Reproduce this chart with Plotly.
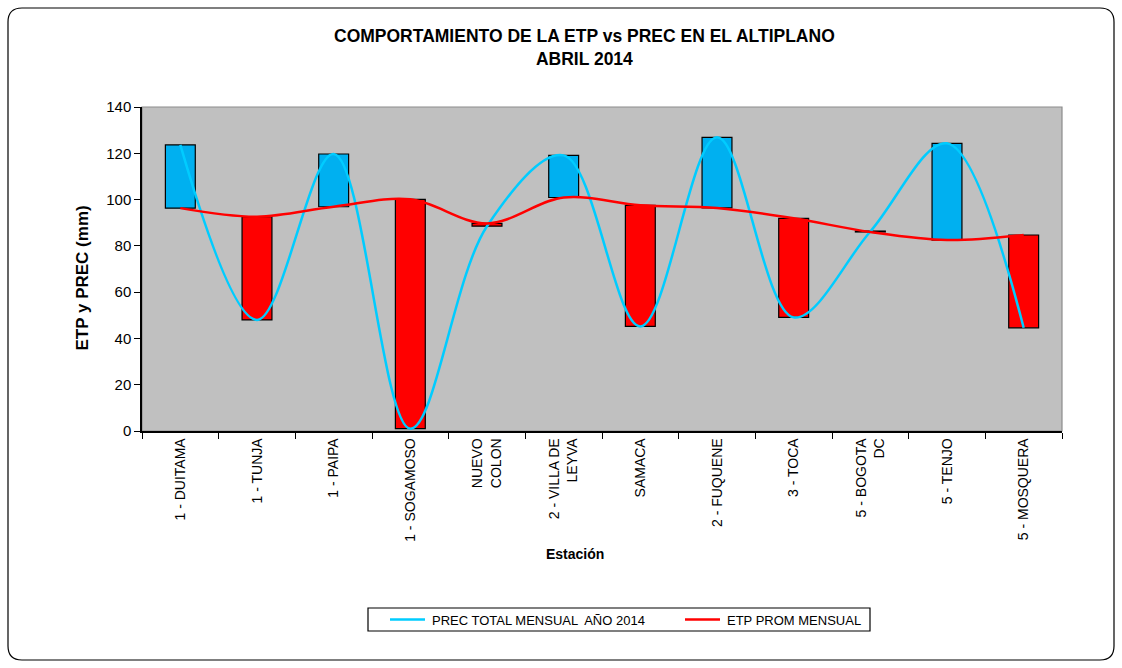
import plotly.graph_objects as go

estaciones = ["1 - DUITAMA", "1 - TUNJA", "1 - PAIPA", "1 - SOGAMOSO", "NUEVO<br>COLON",
              "2 - VILLA DE<br>LEYVA", "SAMACA", "2 - FUQUENE", "3 - TOCA", "5 - BOGOTA<br>DC",
              "5 - TENJO", "5 - MOSQUERA"]
prec = [123.6, 48.0, 119.7, 1.0, 88.5, 119.1, 45.2, 126.9, 49.1, 86.2, 124.3, 44.6]
etp = [96.3, 92.6, 96.9, 100.1, 89.7, 100.9, 97.5, 96.4, 91.9, 86.0, 82.5, 84.7]
series_names = ["PREC TOTAL MENSUAL  AÑO 2014", "ETP PROM MENSUAL"]
series_colors = ["#00CCFF", "#FF0000"]

FONT = "Liberation Sans, Arial, sans-serif"
L, R, T, B = 142, 60, 107, 237
W, H = 1122, 668
pw, ph = W - L - R, H - T - B

def px(x):
    return (x - L) / pw

def py(y):
    return (H - B - y) / ph

base = [min(p, e) for p, e in zip(prec, etp)]
diff = [max(abs(p - e), 0.4) for p, e in zip(prec, etp)]
colors = []
for p, e in zip(prec, etp):
    if abs(p - e) < 0.5:
        colors.append("#000000")
    elif p > e:
        colors.append("#00B0F0")
    else:
        colors.append("#FF0000")

fig = go.Figure()
fig.add_trace(go.Bar(x=estaciones, y=diff, base=base, marker=dict(color=colors, line=dict(color="#000000", width=1.2)),
                     width=0.39, showlegend=False, hoverinfo="skip"))
fig.add_trace(go.Scatter(x=estaciones, y=prec, mode="lines", name=series_names[0], showlegend=False,
                         line=dict(color=series_colors[0], width=2.5, shape="spline", smoothing=1.0)))
fig.add_trace(go.Scatter(x=estaciones, y=etp, mode="lines", name=series_names[1], showlegend=False,
                         line=dict(color=series_colors[1], width=2.5, shape="spline", smoothing=1.0)))

# outer rounded frame
x0, x1, y0, y1, r = 8, 1114, 8, 660, 14
pts = [
    f"M {px(x0 + r)},{py(y0)}",
    f"L {px(x1 - r)},{py(y0)}",
    f"Q {px(x1)},{py(y0)} {px(x1)},{py(y0 + r)}",
    f"L {px(x1)},{py(y1 - r)}",
    f"Q {px(x1)},{py(y1)} {px(x1 - r)},{py(y1)}",
    f"L {px(x0 + r)},{py(y1)}",
    f"Q {px(x0)},{py(y1)} {px(x0)},{py(y1 - r)}",
    f"L {px(x0)},{py(y0 + r)}",
    f"Q {px(x0)},{py(y0)} {px(x0 + r)},{py(y0)} Z",
]
fig.add_shape(type="path", path=" ".join(pts), xref="paper", yref="paper",
              line=dict(color="#000000", width=1.2), layer="below")
# plot area border (gray)
fig.add_shape(type="rect", x0=0, x1=1, y0=0, y1=1, xref="paper", yref="paper",
              line=dict(color="#8C8C8C", width=1.2), layer="below")

# manual legend
fig.add_shape(type="rect", x0=px(368), x1=px(870), y0=py(631), y1=py(608), xref="paper", yref="paper",
              line=dict(color="#000000", width=1.2), fillcolor="#FFFFFF")
annotations = [
    dict(text="<b>COMPORTAMIENTO DE LA ETP vs PREC EN EL ALTIPLANO<br>ABRIL 2014</b>",
         x=px(584), y=py(47), xref="paper", yref="paper", xanchor="center", yanchor="middle",
         showarrow=False, font=dict(family=FONT, size=17.5)),
    dict(text="<b>ETP y PREC (mm)</b>", x=px(70), y=py(278), xref="paper", yref="paper",
         textangle=-90, showarrow=False, font=dict(family=FONT, size=17)),
    dict(text="<b>Estación</b>", x=px(575), y=py(564), xref="paper", yref="paper",
         showarrow=False, font=dict(family=FONT, size=14)),
]
for (lx0, lx1, tx), name, col in zip([(390, 425, 430), (685, 720, 725)], series_names, series_colors):
    fig.add_shape(type="line", x0=px(lx0), x1=px(lx1), y0=py(619.5), y1=py(619.5), xref="paper", yref="paper",
                  line=dict(color=col, width=2.5))
    annotations.append(dict(text=name, x=px(tx), y=py(620), xref="paper", yref="paper", xanchor="left",
                            yanchor="middle", showarrow=False, font=dict(family=FONT, size=13)))

fig.update_layout(
    width=W, height=H,
    margin=dict(l=L, r=R, t=T, b=B),
    paper_bgcolor="#FFFFFF",
    plot_bgcolor="#C0C0C0",
    font=dict(family=FONT, size=14, color="#000000"),
    showlegend=False,
    annotations=annotations,
)
fig.update_xaxes(type="category", tickangle=-90, tickson="boundaries", ticks="outside", ticklen=6,
                 tickcolor="#000000", showline=True, linecolor="#000000", linewidth=1.5,
                 showgrid=False, tickfont=dict(family=FONT, size=14), range=[-0.5, 11.5])
fig.update_yaxes(range=[0, 140], dtick=20, ticks="outside", ticklen=6, tickcolor="#000000",
                 showline=True, linecolor="#000000", linewidth=1.5, showgrid=False, zeroline=False,
                 tickfont=dict(family=FONT, size=15))

fig.write_html("out.html", config={"displayModeBar": False},
               post_script="document.body.style.margin='0px';")
